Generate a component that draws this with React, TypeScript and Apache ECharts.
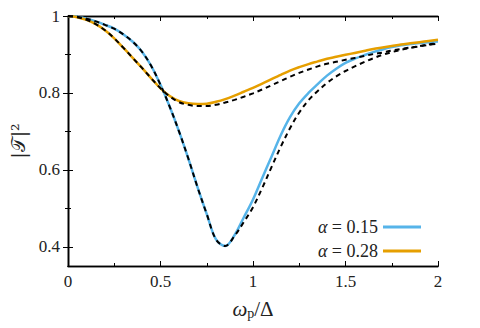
import React, { useEffect, useRef } from "react";
import * as echarts from "echarts";

const X = [0, 0.05, 0.1, 0.15, 0.2, 0.25, 0.3, 0.35, 0.4, 0.45, 0.5, 0.55, 0.6, 0.65, 0.7, 0.75, 0.8, 0.85, 0.9, 0.95, 1, 1.05, 1.1, 1.15, 1.2, 1.25, 1.3, 1.35, 1.4, 1.45, 1.5, 1.55, 1.6, 1.65, 1.7, 1.75, 1.8, 1.85, 1.9, 1.95, 2];

const blue015 = [1.0, 0.998, 0.993, 0.986, 0.977, 0.967, 0.952, 0.933, 0.907, 0.87, 0.821, 0.764, 0.7, 0.63, 0.555, 0.485, 0.419, 0.402, 0.43, 0.476, 0.523, 0.579, 0.634, 0.69, 0.737, 0.773, 0.8, 0.823, 0.845, 0.863, 0.878, 0.889, 0.898, 0.906, 0.913, 0.919, 0.924, 0.927, 0.93, 0.932, 0.934];
const blueApprox = [1.0, 0.998, 0.993, 0.986, 0.977, 0.967, 0.952, 0.933, 0.907, 0.87, 0.821, 0.764, 0.7, 0.63, 0.555, 0.485, 0.419, 0.402, 0.428, 0.464, 0.503, 0.553, 0.607, 0.66, 0.708, 0.749, 0.781, 0.805, 0.826, 0.843, 0.857, 0.869, 0.88, 0.89, 0.899, 0.906, 0.912, 0.917, 0.922, 0.926, 0.929];
const orange028 = [1.0, 0.997, 0.99, 0.979, 0.963, 0.942, 0.917, 0.891, 0.865, 0.838, 0.812, 0.792, 0.779, 0.773, 0.771, 0.772, 0.777, 0.784, 0.793, 0.803, 0.813, 0.824, 0.836, 0.847, 0.858, 0.867, 0.875, 0.882, 0.889, 0.894, 0.899, 0.904, 0.909, 0.914, 0.918, 0.922, 0.926, 0.929, 0.932, 0.935, 0.938];
const orangeApprox = [1.0, 0.997, 0.99, 0.979, 0.963, 0.942, 0.917, 0.891, 0.865, 0.838, 0.812, 0.791, 0.776, 0.769, 0.766, 0.766, 0.769, 0.775, 0.782, 0.79, 0.799, 0.809, 0.82, 0.831, 0.842, 0.852, 0.861, 0.869, 0.876, 0.881, 0.886, 0.891, 0.896, 0.901, 0.905, 0.91, 0.914, 0.918, 0.921, 0.925, 0.928];

const xMajor = [0, 0.5, 1, 1.5, 2];
const xMinor = [0.25, 0.75, 1.25, 1.75];
const yMajor = [0.4, 0.6, 0.8, 1];
const yMinor = [0.5, 0.7, 0.9];
const legendNames = ["α = 0.15", "α = 0.28"];

const FONT = "Liberation Serif";

const pairs = (ys: number[]) => X.map((x, i) => [x, ys[i]]);

export default function App() {
  const ref = useRef<HTMLDivElement>(null);
  useEffect(() => {
    if (!ref.current) return;
    const chart = echarts.init(ref.current, null, { renderer: "svg" });
    const axisLine = { show: true, lineStyle: { color: "#000", width: 1.3 } };
    const xBase = (extra: any) => ({
      type: "value",
      min: 0,
      max: 2,
      axisLine,
      splitLine: { show: false },
      axisLabel: { show: false },
      ...extra,
    });
    const yBase = (extra: any) => ({
      type: "value",
      min: 0.35,
      max: 1,
      axisLine,
      splitLine: { show: false },
      axisLabel: { show: false },
      ...extra,
    });
    const option: any = {
      animation: false,
      grid: { left: 68, top: 16, right: 42, bottom: 62 },
      xAxis: [
        xBase({
          position: "bottom",
          name: "{w|ω}{s|p}{n|/Δ}",
          nameLocation: "middle",
          nameGap: 31,
          nameTextStyle: {
            rich: {
              w: { fontFamily: FONT, fontSize: 21, fontStyle: "italic", color: "#222" },
              s: { fontFamily: FONT, fontSize: 14, color: "#222", padding: [9, 0, 0, 0] },
              n: { fontFamily: FONT, fontSize: 21, color: "#222" },
            },
          },
          axisTick: { show: true, inside: true, length: 5, customValues: xMajor, lineStyle: { color: "#000" } },
          axisLabel: { show: true, customValues: xMajor, margin: 7, fontFamily: FONT, fontSize: 17, color: "#222", formatter: (v: number) => String(v) },
        }),
        xBase({ position: "bottom", axisTick: { show: true, inside: true, length: 3, customValues: xMinor, lineStyle: { color: "#000" } } }),
        xBase({ position: "top", axisTick: { show: true, inside: true, length: 5, customValues: xMajor, lineStyle: { color: "#000" } } }),
        xBase({ position: "top", axisTick: { show: true, inside: true, length: 3, customValues: xMinor, lineStyle: { color: "#000" } } }),
      ],
      yAxis: [
        yBase({
          position: "left",
          name: "|𝒯|²",
          nameLocation: "middle",
          nameGap: 32,
          nameRotate: 90,
          nameTextStyle: { fontFamily: "DejaVu Serif", fontSize: 19, color: "#222" },
          axisTick: { show: true, inside: true, length: 5, customValues: yMajor, lineStyle: { color: "#000" } },
          axisLabel: { show: true, customValues: yMajor, margin: 8, fontFamily: FONT, fontSize: 17, color: "#222", formatter: (v: number) => String(v) },
        }),
        yBase({ position: "left", axisTick: { show: true, inside: true, length: 3, customValues: yMinor, lineStyle: { color: "#000" } } }),
        yBase({ position: "right", axisTick: { show: true, inside: true, length: 5, customValues: yMajor, lineStyle: { color: "#000" } } }),
        yBase({ position: "right", axisTick: { show: true, inside: true, length: 3, customValues: yMinor, lineStyle: { color: "#000" } } }),
      ],
      legend: {
        data: legendNames,
        orient: "vertical",
        align: "right",
        right: 54,
        top: 213,
        itemGap: 6,
        itemWidth: 38,
        itemHeight: 3,
        icon: "rect",
        formatter: (name: string) => "{a|α} = " + name.split("= ")[1],
        textStyle: {
          fontFamily: FONT,
          fontSize: 18,
          color: "#222",
          rich: { a: { fontFamily: FONT, fontSize: 18, fontStyle: "italic", color: "#222" } },
        },
      },
      series: [
        { name: legendNames[0], type: "line", data: pairs(blue015), smooth: 0.35, showSymbol: false, lineStyle: { color: "#56B4E9", width: 2.5 }, itemStyle: { color: "#56B4E9" }, z: 2 },
        { name: legendNames[1], type: "line", data: pairs(orange028), smooth: 0.35, showSymbol: false, lineStyle: { color: "#E69F00", width: 2.5 }, itemStyle: { color: "#E69F00" }, z: 2 },
        { name: "approx1", type: "line", data: pairs(blueApprox), smooth: 0.35, showSymbol: false, lineStyle: { color: "#000", width: 2, type: [5, 4] }, z: 3 },
        { name: "approx2", type: "line", data: pairs(orangeApprox), smooth: 0.35, showSymbol: false, lineStyle: { color: "#000", width: 2, type: [5, 4] }, z: 3 },
      ],
    };
    chart.setOption(option);
    return () => chart.dispose();
  }, []);
  return <div ref={ref} style={{ width: 480, height: 328, position: "absolute", left: 0, top: 0 }} />;
}
